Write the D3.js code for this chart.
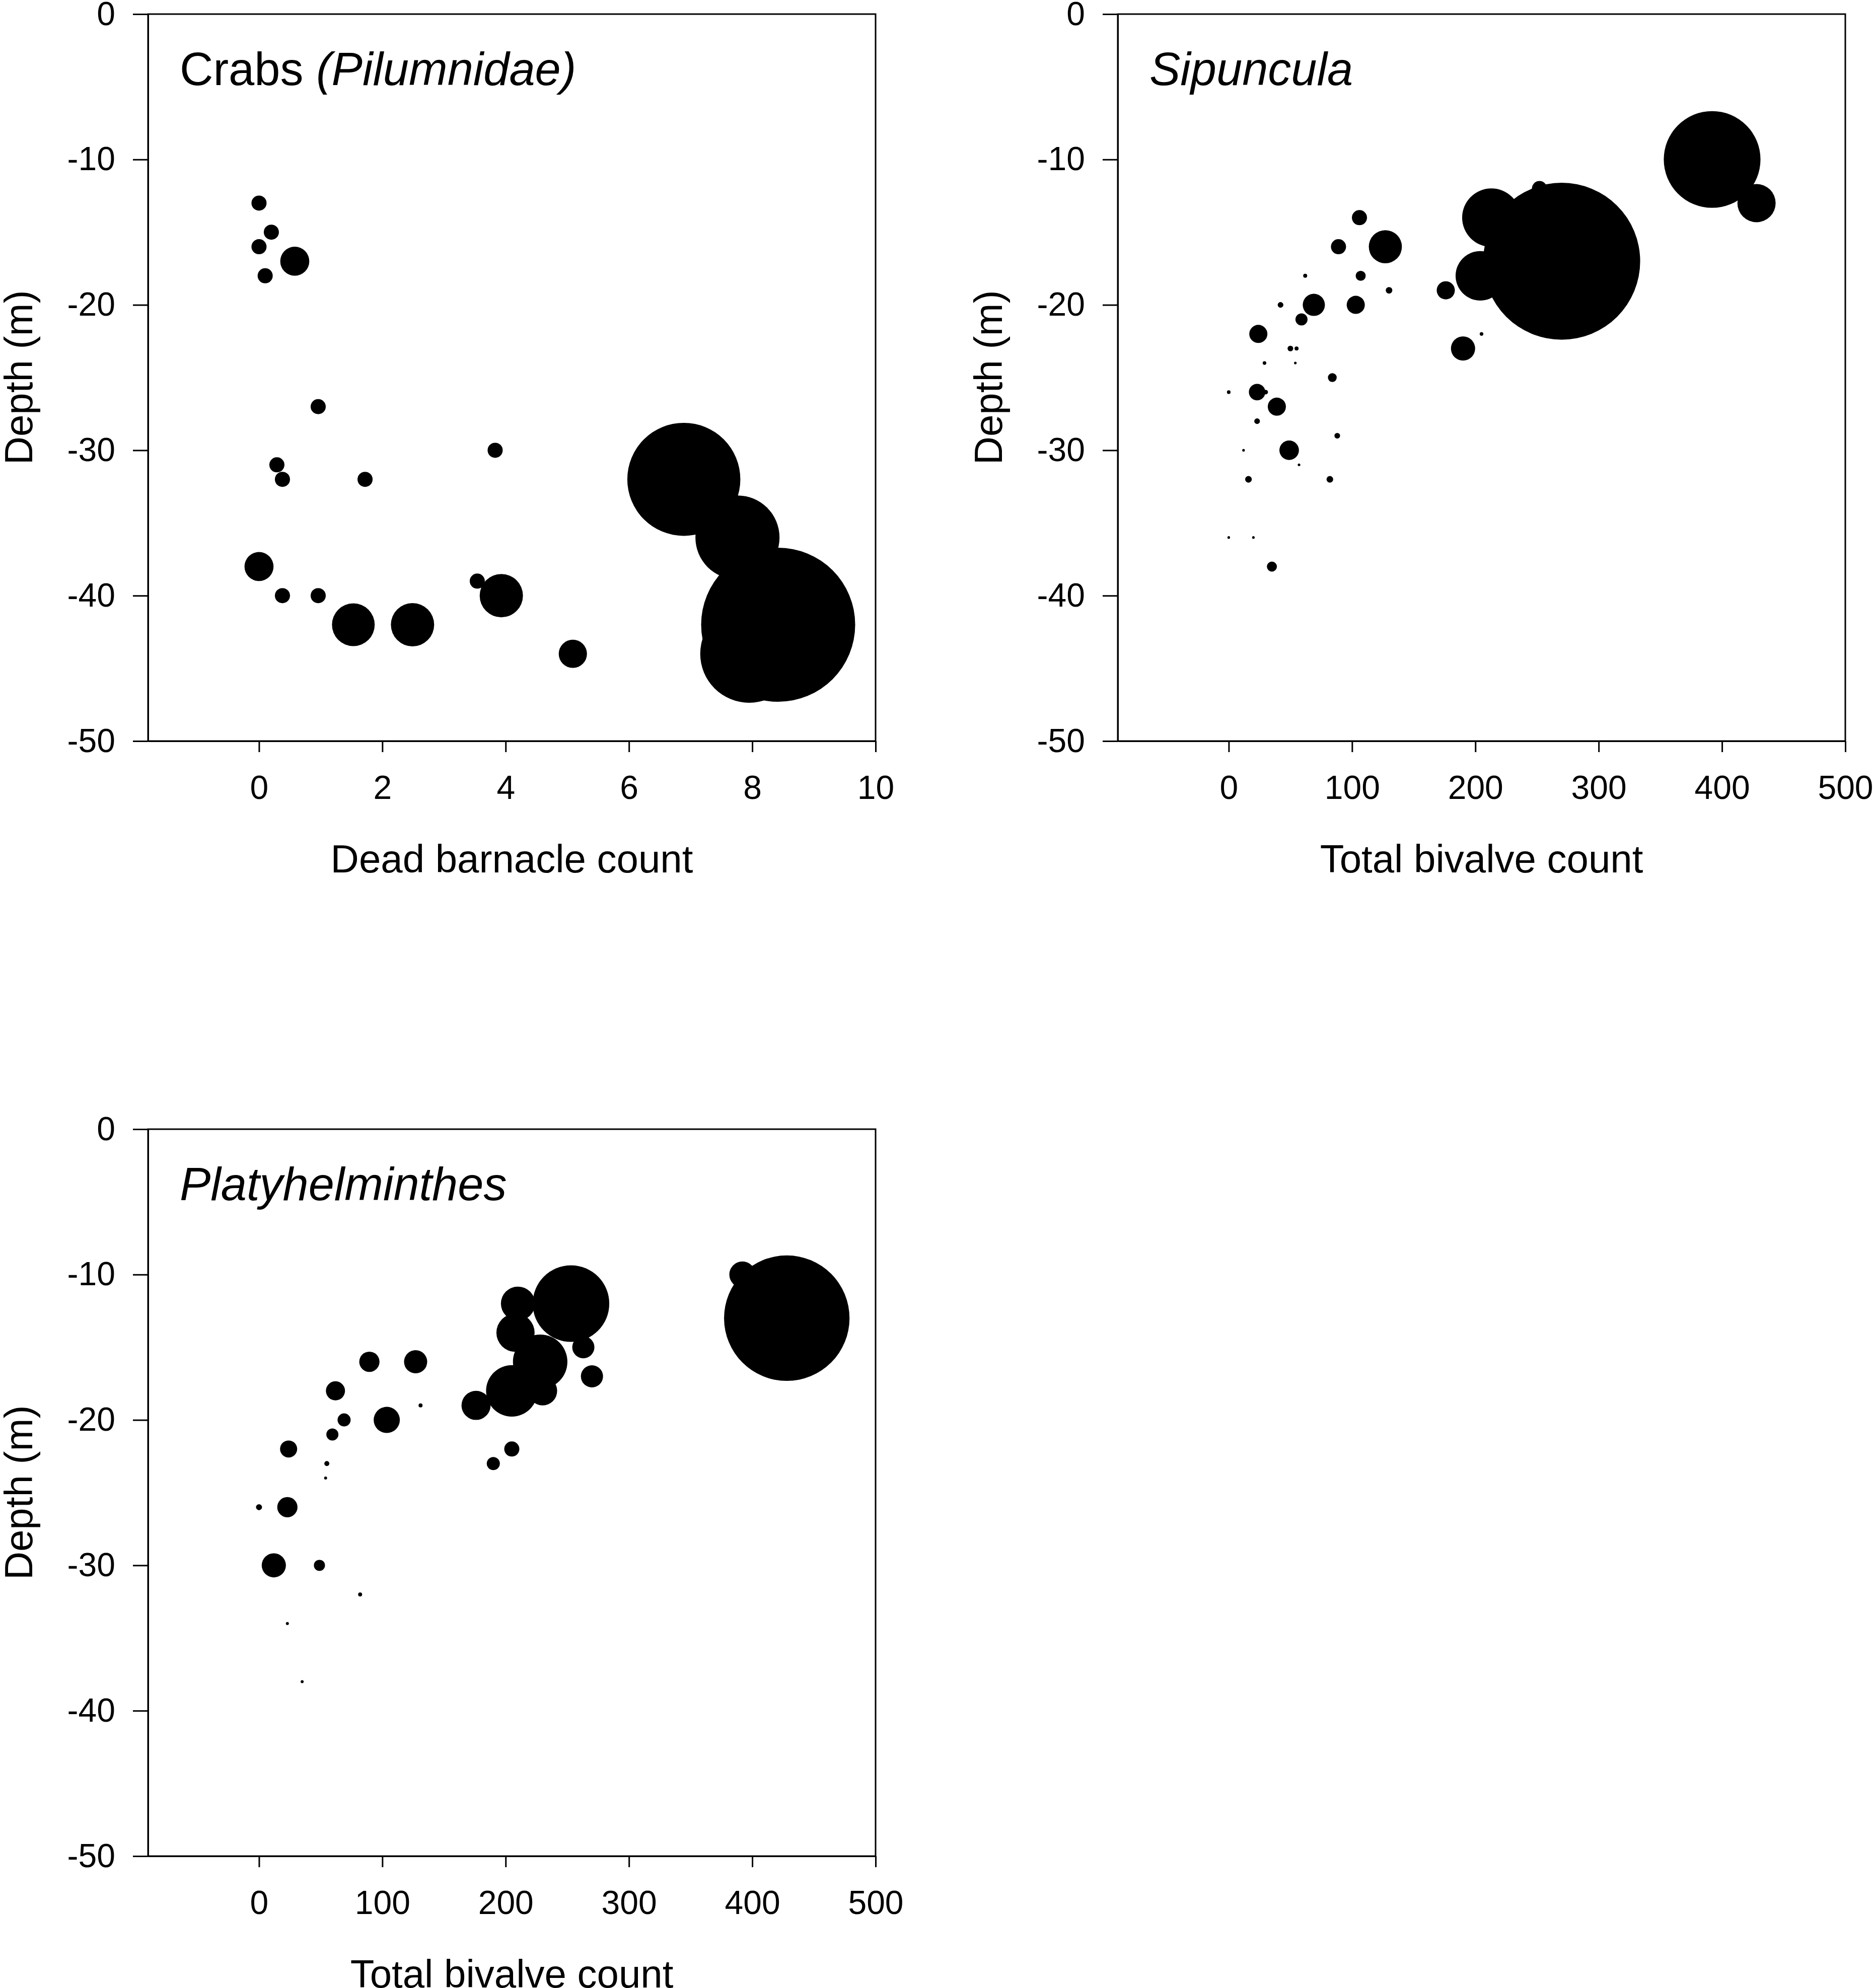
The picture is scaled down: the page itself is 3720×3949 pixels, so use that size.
<!DOCTYPE html>
<html>
<head>
<meta charset="utf-8">
<script src="https://cdn.jsdelivr.net/npm/d3@7"></script>
<style>
  body { margin: 0; background: #fff; }
  svg { display: block; background: #fff; }
</style>
</head>
<body>
<svg id="chart"></svg>
<script>
// Data section ****************************************************************
const depthTicks = [0, -10, -20, -30, -40, -50];
const barnacleTicks = [0, 2, 4, 6, 8, 10];
const bivalveTicks = [0, 100, 200, 300, 400, 500];

// Crabs (Pilumnidae) vs dead barnacle count
const crabX = [0, 0.2, 0, 0.58, 0.1, 0.96, 3.83, 0.29, 0.38, 1.72, 6.89, 7.76, 0, 3.54, 0.38, 0.96, 3.93, 1.53, 2.49, 8.42, 5.09, 7.95];
const crabDepth = [-13, -15, -16, -17, -18, -27, -30, -31, -32, -32, -32, -36, -38, -39, -40, -40, -40, -42, -42, -42, -44, -44];
const crabSize = [1, 1, 1, 3.7, 1, 1, 1, 1, 1, 1, 56, 31, 3.7, 1, 1, 1, 8.2, 8, 8.2, 104, 3.5, 42];

// Sipuncula vs total bivalve count
const sipX = [106, 89, 127, 62, 107, 130, 176, 42, 69, 103, 59, 24, 205, 190, 50, 55, 29, 54, 84, 0, 23, 30, 39, 23, 88, 12, 49, 57, 16, 82, 0, 20, 35, 270, 392, 428, 213, 204, 252];
const sipDepth = [-14, -16, -16, -18, -18, -19, -19, -20, -20, -20, -21, -22, -22, -23, -23, -23, -24, -24, -25, -26, -26, -26, -27, -28, -29, -30, -30, -31, -32, -32, -36, -36, -38, -17, -10, -13, -14, -18, -12];
const sipSize = [1, 1, 4.8, 0.07, 0.44, 0.19, 1.44, 0.14, 2.15, 1.44, 0.64, 1.44, 0.058, 2.56, 0.14, 0.07, 0.058, 0.03, 0.34, 0.058, 1.18, 0.09, 1.44, 0.14, 0.14, 0.03, 1.67, 0.03, 0.19, 0.19, 0.03, 0.03, 0.44, 108, 41, 6.4, 15, 10.7, 1];

// Platyhelminthes vs total bivalve count
const platX = [392, 428, 253, 210, 208, 228, 263, 270, 230, 205, 176, 89.5, 127, 62, 131, 103.6, 69, 59.5, 24, 205, 190, 55, 54, 0, 23, 12, 49, 82, 23, 35];
const platDepth = [-10, -13, -12, -12, -14, -16, -15, -17, -18, -18, -19, -16, -16, -18, -19, -20, -20, -21, -22, -22, -23, -23, -24, -26, -26, -30, -30, -32, -34, -38];
const platSize = [3, 69, 25.7, 5.1, 6.4, 13, 2.15, 2.15, 3.7, 11.6, 3.7, 1.8, 2.35, 1.6, 0.07, 3, 0.75, 0.64, 1.28, 1, 0.75, 0.11, 0.04, 0.16, 1.8, 2.56, 0.54, 0.07, 0.04, 0.04];

/******************************************************************************/

const width = 3720, height = 3949;   // Size of the whole figure
const plotW = 1445, plotH = 1444;    // Size of each plot box
const font = "'Liberation Sans', Arial, Helvetica, sans-serif";

const svg = d3.select("#chart")
    .attr("width", width)
    .attr("height", height);

// Bubble area grows with the value (same scale in every panel)
const rScale = d3.scaleSqrt().domain([0, 100]).range([0, 150]);

// Draws one bubble panel at (left, top)
function drawPanel(left, top, xDomain, xTicks, xLabel, titleParts, xs, ys, sizes) {
    const g = svg.append("g").attr("transform", `translate(${left},${top})`);

    const x = d3.scaleLinear().domain(xDomain).range([0, plotW]);
    const y = d3.scaleLinear().domain([-50, 0]).range([plotH, 0]);

    const points = xs.map((d, i) => ({ x: d, depth: ys[i], size: sizes[i] }));

    // Bubbles
    g.selectAll(".bubble")
        .data(points)
        .enter().append("circle")
        .attr("class", "bubble")
        .attr("cx", d => x(d.x))
        .attr("cy", d => y(d.depth))
        .attr("r", d => rScale(d.size))
        .attr("fill", "#000");

    // Frame round the plot
    g.append("rect")
        .attr("width", plotW)
        .attr("height", plotH)
        .attr("fill", "none")
        .attr("stroke", "#000")
        .attr("stroke-width", 3);

    // Bottom axis
    const xAxis = g.append("g")
        .attr("transform", `translate(0,${plotH})`)
        .call(d3.axisBottom(x).tickValues(xTicks).tickSize(22).tickSizeOuter(0).tickPadding(46)
            .tickFormat(d => String(d)));

    // Left axis (hyphen minus, like the original)
    const yAxis = g.append("g")
        .call(d3.axisLeft(y).tickValues(depthTicks).tickSize(30).tickSizeOuter(0).tickPadding(35)
            .tickFormat(d => String(d)));

    [xAxis, yAxis].forEach(a => {
        a.attr("font-family", font).attr("font-size", 66);
        a.select(".domain").attr("stroke-width", 3);
        a.selectAll(".tick line").attr("stroke-width", 3);
        a.selectAll(".tick text").attr("fill", "#000");
    });

    // Axis titles
    g.append("text")
        .attr("x", plotW / 2)
        .attr("y", plotH + 261)
        .attr("text-anchor", "middle")
        .style("font-family", font)
        .style("font-size", "78px")
        .text(xLabel);

    g.append("text")
        .attr("transform", `translate(-230,${plotH / 2}) rotate(-90)`)
        .attr("text-anchor", "middle")
        .style("font-family", font)
        .style("font-size", "78px")
        .text("Depth (m)");

    // Panel title, some parts in italics
    const title = g.append("text")
        .attr("x", 63)
        .attr("y", 141)
        .style("font-family", font)
        .style("font-size", "92px");
    titleParts.forEach(p => {
        title.append("tspan")
            .style("font-style", p.italic ? "italic" : "normal")
            .text(p.text);
    });
}

drawPanel(294, 28, [-1.8, 10], barnacleTicks, "Dead barnacle count",
    [{ text: "Crabs ", italic: false }, { text: "(Pilumnidae)", italic: true }],
    crabX, crabDepth, crabSize);

drawPanel(2220, 28, [-90, 500], bivalveTicks, "Total bivalve count",
    [{ text: "Sipuncula", italic: true }],
    sipX, sipDepth, sipSize);

drawPanel(294, 2243, [-90, 500], bivalveTicks, "Total bivalve count",
    [{ text: "Platyhelminthes", italic: true }],
    platX, platDepth, platSize);
</script>
</body>
</html>
